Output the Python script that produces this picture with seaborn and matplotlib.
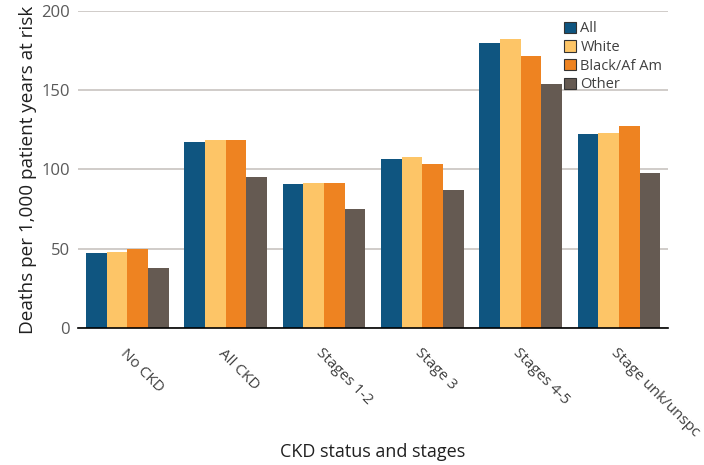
import matplotlib
matplotlib.use("Agg")
import matplotlib.pyplot as plt
import seaborn as sns
import pandas as pd

categories = ["No CKD", "All CKD", "Stages 1-2", "Stage 3", "Stages 4-5", "Stage unk/unspc"]
series = ["All", "White", "Black/Af Am", "Other"]
all_vals = [47.3, 117.5, 91.0, 106.4, 179.8, 122.4]
white_vals = [47.7, 118.8, 91.7, 107.9, 182.3, 123.2]
black_vals = [50.0, 118.8, 91.7, 103.7, 171.6, 127.2]
other_vals = [37.6, 95.3, 75.3, 87.3, 154.3, 97.5]
colors = ["#0F5580", "#FDC567", "#EE8321", "#655A52"]
yticks = [0, 50, 100, 150, 200]

rows = []
for s, vals in zip(series, [all_vals, white_vals, black_vals, other_vals]):
    for c, v in zip(categories, vals):
        rows.append({"cat": c, "series": s, "value": v})
df = pd.DataFrame(rows)

sns.set_style("white")
plt.rcParams["font.family"] = ["Open Sans", "DejaVu Sans"]

fig = plt.figure(figsize=(7.04, 4.65), dpi=100)
ax = fig.add_axes([0.111, 0.295, 0.838, 0.681])
sns.barplot(data=df, x="cat", y="value", hue="series", order=categories,
            hue_order=series, palette=colors, width=0.84, saturation=1,
            edgecolor="none", ax=ax)
ax.set_ylim(0, 200)
ax.set_xlim(-0.5, 5.5)
ax.set_yticks(yticks)
ax.yaxis.grid(True, color="#C8C4C0", linewidth=1.2)
ax.set_axisbelow(True)
for sp in ["left", "right", "top"]:
    ax.spines[sp].set_visible(False)
ax.spines["bottom"].set_color("black")
ax.spines["bottom"].set_linewidth(1.2)
ax.tick_params(axis="y", length=0, labelsize=12, labelcolor="#595959", pad=6)
ax.tick_params(axis="x", length=0, labelsize=11, labelcolor="#404040", pad=13)
for lbl in ax.get_xticklabels():
    lbl.set_rotation(-45)
    lbl.set_ha("left")
    lbl.set_rotation_mode("anchor")
ax.set_xlabel("")
fig.text(373 / 704, 1 - 452 / 465, "CKD status and stages", fontsize=13,
         color="#202020", ha="center", va="center")
ax.set_ylabel("Deaths per 1,000 patient years at risk", fontsize=13.6,
              color="#202020", labelpad=3)

leg = ax.legend(loc="upper right", bbox_to_anchor=(1.005, 0.995), frameon=False,
                fontsize=10.5, handlelength=0.8, handleheight=0.8,
                handletextpad=0.3, labelspacing=0.25, borderaxespad=0.2)
for h in leg.legend_handles:
    h.set_edgecolor("#333333")
    h.set_linewidth(0.8)
for t in leg.get_texts():
    t.set_color("#404040")

fig.savefig("out.png", dpi=100)
